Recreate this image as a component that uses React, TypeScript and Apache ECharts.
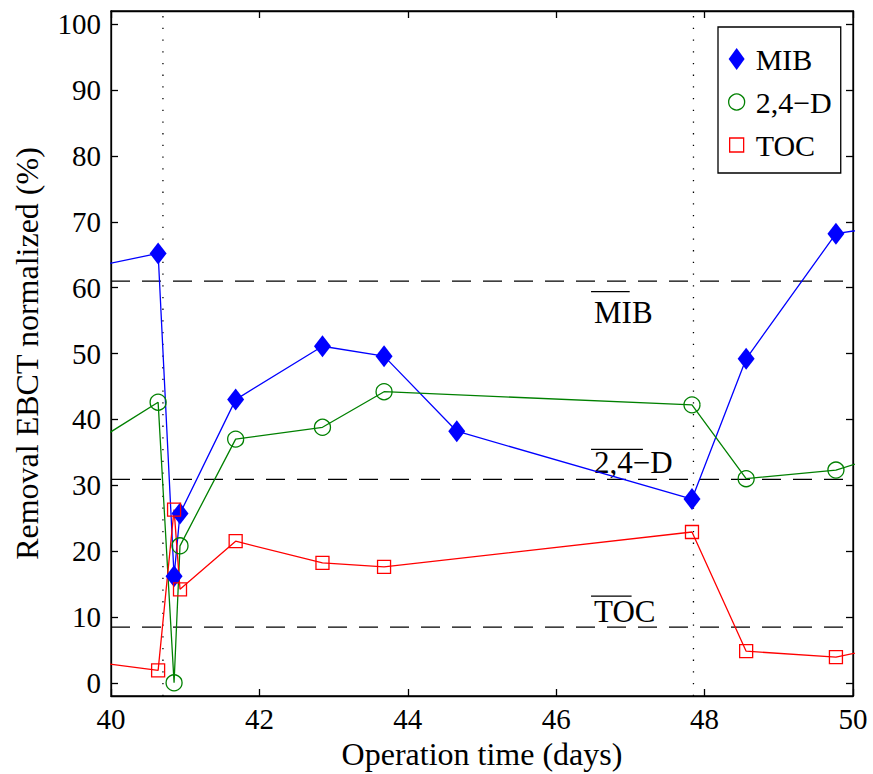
import React, { useEffect, useRef } from 'react';
import * as echarts from 'echarts';

// Operation time (days); first and last points lie outside the visible window
const days = [39.6, 40.635, 40.85, 40.93, 41.68, 42.85, 43.68, 44.66, 47.83, 48.56, 49.77, 50.6];
const mibValues = [62.8, 65.2, 16.2, 25.7, 43.0, 51.1, 49.6, 38.2, 27.9, 49.2, 68.2, 69.6];
const dValues = [35.3, 42.6, 0.0, 20.8, 37.0, 38.8, 44.2, null, 42.2, 31.0, 32.3, 35.2];
const tocValues = [3.4, 1.9, 26.3, 14.2, 21.5, 18.2, 17.6, null, 22.9, 4.8, 3.9, 5.9];

const seriesNames = ['MIB', '2,4\u2212D', 'TOC'];
const meanValues = [61.0, 30.9, 8.45];
const meanLabelX = [46.51, 46.51, 46.51];
const meanLabelY = [56.2, 33.4, 10.8];
const markerDays = [40.7, 47.85];

const xTicks = [40, 42, 44, 46, 48, 50];
const yTicks = [0, 10, 20, 30, 40, 50, 60, 70, 80, 90, 100];

const FONT = '"Liberation Serif", "Times New Roman", serif';

export default function App() {
  const ref = useRef<HTMLDivElement>(null);
  useEffect(() => {
    if (!ref.current) return;
    const chart = echarts.init(ref.current, null, { renderer: 'svg' });
    const ctx = document.createElement('canvas').getContext('2d')!;
    ctx.font = '31px "Liberation Serif"';
    const overOffset = [21, 13.5, 15.5];

    const zip = (vals: (number | null)[]) => days.map((d, i) => [d, vals[i]]);
    const axisLineStyle = { color: '#000', width: 1.3 };
    const tickStyle = { inside: true, length: 7, lineStyle: { color: '#000', width: 1.3 } };

    const series: any[] = [
      {
        name: seriesNames[0], type: 'line', data: zip(mibValues), connectNulls: true,
        symbol: 'diamond', symbolSize: [17, 22], clip: true,
        lineStyle: { color: '#0000ff', width: 1.3 },
        itemStyle: { color: '#0000ff' },
      },
      {
        name: seriesNames[1], type: 'line', data: zip(dValues), connectNulls: true,
        symbol: 'circle', symbolSize: 16, clip: true,
        lineStyle: { color: '#008000', width: 1.3 },
        itemStyle: { color: 'rgba(0,0,0,0)', borderColor: '#008000', borderWidth: 1.3 },
      },
      {
        name: seriesNames[2], type: 'line', data: zip(tocValues), connectNulls: true,
        symbol: 'rect', symbolSize: 13, clip: true,
        lineStyle: { color: '#ff0000', width: 1.3 },
        itemStyle: { color: 'rgba(0,0,0,0)', borderColor: '#ff0000', borderWidth: 1.3 },
      },
    ];
    meanValues.forEach((v, i) => {
      series.push({
        name: 'mean' + i, type: 'line', silent: true, symbol: 'none', z: 1,
        data: [[40, v], [50, v]],
        lineStyle: { color: '#000', width: 1.3, type: [19, 12] },
      });
    });
    markerDays.forEach((d, i) => {
      series.push({
        name: 'event' + i, type: 'line', silent: true, symbol: 'none', z: 1,
        data: [[d, -2], [d, 102]],
        lineStyle: { color: '#000', width: 1.3, type: [1.3, 10.4] },
      });
    });
    series.push({
      name: 'meanLabels', type: 'custom', silent: true, z: 3,
      data: meanLabelX.map((x, i) => [x, meanLabelY[i]]),
      renderItem: (params: any, api: any) => {
        const i = params.dataIndex;
        const p = api.coord([api.value(0), api.value(1)]);
        const text = seriesNames[i];
        const w = ctx.measureText(text).width;
        return {
          type: 'group',
          children: [
            {
              type: 'text', x: p[0], y: p[1],
              style: { text, font: '31px ' + FONT, fill: '#000', align: 'left', verticalAlign: 'middle' },
            },
            {
              type: 'line',
              shape: { x1: p[0] - 3, y1: p[1] - overOffset[i], x2: p[0] - 3 + w * 0.66, y2: p[1] - overOffset[i] },
              style: { stroke: '#000', lineWidth: 1.3 },
            },
          ],
        };
      },
    });

    chart.setOption({
      animation: false,
      backgroundColor: '#fff',
      grid: {
        left: 111, right: 20, top: 11, bottom: 78, show: true,
        borderColor: '#000', borderWidth: 1.3, backgroundColor: 'transparent',
        outerBoundsMode: 'none',
      },
      legend: {
        orient: 'vertical', left: 718, top: 27,
        itemWidth: 16, itemHeight: 22, itemGap: 13,
        padding: [17, 9, 13, 10],
        backgroundColor: '#fff', borderColor: '#000', borderWidth: 1.3,
        textStyle: { fontFamily: FONT, fontSize: 30, color: '#000', padding: [0, 0, 0, 6] },
        data: [
          { name: seriesNames[0], icon: 'diamond', itemStyle: { color: '#0000ff', borderWidth: 0 } },
          { name: seriesNames[1], icon: 'circle', itemStyle: { color: 'rgba(0,0,0,0)', borderColor: '#008000', borderWidth: 1.3 } },
          { name: seriesNames[2], icon: 'path://M-1,-4M0,0L14,0L14,14L0,14ZM15,18', itemStyle: { color: 'rgba(0,0,0,0)', borderColor: '#ff0000', borderWidth: 1.3 } },
        ],
      },
      xAxis: [
        {
          type: 'value', position: 'bottom', min: 40, max: 50, interval: 2,
          axisLine: { onZero: false, lineStyle: axisLineStyle }, axisTick: tickStyle, splitLine: { show: false },
          axisLabel: { color: '#000', fontFamily: FONT, fontSize: 29, margin: 8, customValues: xTicks },
          name: 'Operation time (days)', nameLocation: 'middle', nameGap: 40,
          nameTextStyle: { color: '#000', fontFamily: FONT, fontSize: 32 },
        },
        {
          type: 'value', position: 'top', min: 40, max: 50, interval: 2,
          axisLine: { onZero: false, lineStyle: axisLineStyle }, axisTick: tickStyle, splitLine: { show: false },
          axisLabel: { show: false },
        },
      ],
      yAxis: [
        {
          type: 'value', position: 'left', min: -2, max: 102,
          axisLine: { show: true, onZero: false, lineStyle: axisLineStyle },
          axisTick: { ...tickStyle, customValues: yTicks }, splitLine: { show: false },
          axisLabel: { color: '#000', fontFamily: FONT, fontSize: 29, margin: 10, customValues: yTicks },
          name: 'Removal EBCT normalized (%)', nameLocation: 'middle', nameGap: 68,
          nameTextStyle: { color: '#000', fontFamily: FONT, fontSize: 32 },
        },
        {
          type: 'value', position: 'right', min: -2, max: 102,
          axisLine: { show: true, onZero: false, lineStyle: axisLineStyle },
          axisTick: { ...tickStyle, customValues: yTicks }, splitLine: { show: false },
          axisLabel: { show: false, customValues: yTicks },
        },
      ],
      series,
    });
    return () => chart.dispose();
  }, []);
  return <div ref={ref} style={{ position: 'absolute', left: 0, top: 0, width: 873, height: 774 }} />;
}
